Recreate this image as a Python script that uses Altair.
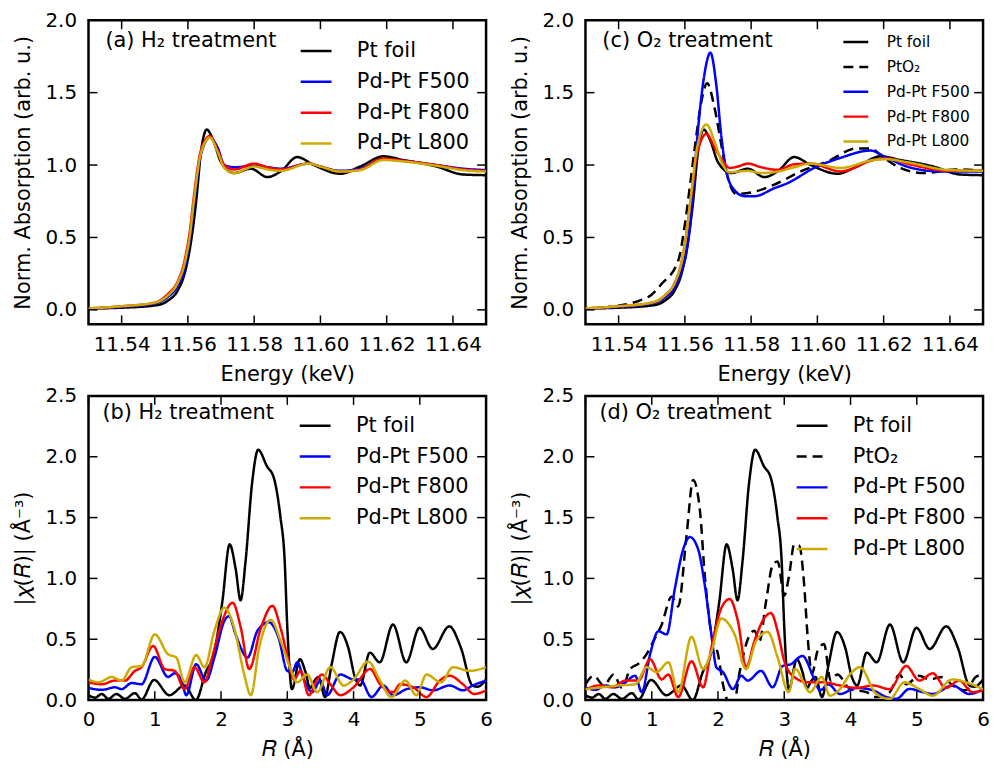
import altair as alt
import pandas as pd

# ---------------- data ----------------
# XANES, Pt foil (shared by panels a and c)
xan_ptfoil_E = [11.530, 11.540, 11.550, 11.554, 11.557, 11.559, 11.561, 11.5625, 11.564, 11.5657,
                11.5675, 11.570, 11.574, 11.579, 11.584, 11.588, 11.593, 11.598, 11.606, 11.612,
                11.619, 11.625, 11.635, 11.643, 11.650]
xan_ptfoil_mu = [0.01, 0.015, 0.03, 0.064, 0.137, 0.25, 0.48, 0.75, 1.10, 1.245,
                 1.18, 1.02, 0.945, 0.975, 0.917, 0.956, 1.055, 1.0, 0.94, 0.99,
                 1.06, 1.035, 0.99, 0.935, 0.93]

# panel (a) H2 treatment
a_E = [11.530, 11.540, 11.550, 11.554, 11.557, 11.559, 11.5605, 11.562, 11.5638, 11.5666,
       11.569, 11.571, 11.574, 11.580, 11.584, 11.588, 11.5965, 11.600, 11.606, 11.612,
       11.619, 11.625, 11.635, 11.643, 11.650]
a_f500_mu = [0.01, 0.02, 0.045, 0.09, 0.17, 0.29, 0.48, 0.76, 1.06, 1.19,
             1.12, 1.0, 0.985, 0.995, 0.985, 0.975, 1.01, 0.99, 0.96, 0.975,
             1.04, 1.03, 1.0, 0.975, 0.965]
a_f800_mu = [0.01, 0.025, 0.05, 0.11, 0.20, 0.34, 0.53, 0.82, 1.09, 1.20,
             1.10, 1.0, 0.97, 1.01, 0.985, 0.97, 1.01, 0.99, 0.955, 0.97,
             1.045, 1.03, 1.0, 0.97, 0.96]
a_l800_mu = [0.01, 0.025, 0.05, 0.10, 0.19, 0.32, 0.50, 0.79, 1.07, 1.19,
             1.09, 0.98, 0.945, 0.99, 0.97, 0.96, 1.01, 0.99, 0.955, 0.965,
             1.035, 1.025, 0.995, 0.965, 0.955]

# panel (c) O2 treatment
c_pto2_E = [11.530, 11.537, 11.549, 11.553, 11.558, 11.560, 11.5615, 11.563, 11.565, 11.5667,
            11.569, 11.571, 11.573, 11.5755, 11.580, 11.587, 11.595, 11.603, 11.612, 11.616,
            11.620, 11.625, 11.632, 11.642, 11.650]
c_pto2_mu = [0.01, 0.02, 0.09, 0.18, 0.34, 0.59, 0.85, 1.12, 1.44, 1.565,
             1.39, 1.14, 0.91, 0.80, 0.81, 0.865, 0.956, 1.025, 1.115, 1.115,
             1.05, 0.98, 0.945, 0.97, 0.96]
c_f500_E = [11.530, 11.540, 11.550, 11.554, 11.557, 11.559, 11.5605, 11.562, 11.563, 11.5645,
            11.566, 11.5677, 11.5695, 11.571, 11.5725, 11.5745, 11.578, 11.581, 11.587, 11.591,
            11.599, 11.607, 11.616, 11.621, 11.627, 11.637, 11.650]
c_f500_mu = [0.01, 0.02, 0.045, 0.085, 0.16, 0.27, 0.40, 0.68, 0.98, 1.37,
             1.64, 1.776, 1.55, 1.2, 0.96, 0.84, 0.785, 0.785, 0.84, 0.875,
             0.98, 1.05, 1.10, 1.05, 0.99, 0.956, 0.956]
c_E = [11.530, 11.540, 11.550, 11.554, 11.557, 11.559, 11.5603, 11.562, 11.5637, 11.5665,
       11.569, 11.571, 11.5735, 11.576, 11.579, 11.583, 11.588, 11.593, 11.598, 11.607,
       11.617, 11.621, 11.627, 11.640, 11.650]
c_f800_mu = [0.01, 0.025, 0.05, 0.10, 0.19, 0.33, 0.50, 0.80, 1.08, 1.215,
             1.12, 1.045, 0.98, 0.99, 1.01, 0.985, 0.967, 1.005, 1.01, 0.956,
             1.035, 1.045, 1.01, 0.96, 0.96]
c_l800_mu = [0.01, 0.025, 0.05, 0.10, 0.19, 0.33, 0.50, 0.82, 1.12, 1.28,
             1.16, 1.025, 0.95, 0.955, 0.96, 0.945, 0.955, 0.985, 1.01, 0.98,
             1.035, 1.04, 1.02, 0.965, 0.96]

# FT, Pt foil (shared by panels b and d)
ft_ptfoil_R = [0.0, 0.1, 0.2, 0.3, 0.42, 0.55, 0.7, 0.8, 0.99, 1.22, 1.45, 1.62, 1.77, 1.89,
               2.02, 2.13, 2.22, 2.295, 2.37, 2.47, 2.56, 2.695, 2.795, 2.895, 2.96, 3.0,
               3.07, 3.19, 3.27, 3.345, 3.4, 3.47, 3.57, 3.67, 3.795, 3.92, 4.02, 4.1,
               4.245, 4.395, 4.595, 4.795, 4.995, 5.195, 5.445, 5.62, 5.795, 5.87, 6.0]
ft_ptfoil_chi = [0.04, 0.02, 0.05, 0.01, 0.05, 0.01, 0.057, 0.005, 0.165, 0.04, 0.12, 0.0, 0.23, 0.376,
                 0.81, 1.28, 1.08, 0.82, 1.14, 1.79, 2.057, 1.92, 1.83, 1.51, 1.15, 0.6,
                 0.09, 0.336, 0.24, 0.1, 0.15, 0.19, 0.025, 0.295, 0.56, 0.43, 0.19, 0.12,
                 0.39, 0.31, 0.621, 0.31, 0.594, 0.42, 0.606, 0.43, 0.12, 0.11, 0.17]

# panel (b) H2 treatment
b_f500_R = [0.0, 0.2, 0.4, 0.5, 0.65, 0.8, 1.0, 1.2, 1.3, 1.4, 1.475, 1.625, 1.775, 1.9, 2.05,
            2.12, 2.22, 2.4, 2.55, 2.72, 2.87, 3.0, 3.075, 3.15, 3.25, 3.375, 3.5, 3.6, 3.8,
            4.0, 4.1, 4.27, 4.45, 4.6, 4.8, 5.0, 5.2, 5.45, 5.65, 5.8, 6.0]
b_f500_chi = [0.10, 0.084, 0.105, 0.09, 0.14, 0.13, 0.355, 0.19, 0.22, 0.17, 0.04, 0.295, 0.16, 0.35, 0.65,
              0.69, 0.54, 0.35, 0.57, 0.64, 0.51, 0.24, 0.23, 0.31, 0.17, 0.065, 0.16, 0.04, 0.21,
              0.17, 0.17, 0.025, 0.12, 0.04, 0.09, 0.105, 0.08, 0.12, 0.08, 0.12, 0.16]
b_f800_R = [0.0, 0.2, 0.4, 0.55, 0.7, 0.8, 0.975, 1.15, 1.3, 1.45, 1.6, 1.75, 1.85, 2.0, 2.175,
            2.3, 2.425, 2.6, 2.775, 2.9, 3.03, 3.1, 3.2, 3.325, 3.45, 3.525, 3.65, 3.8, 4.0,
            4.25, 4.4, 4.6, 4.7, 4.9, 5.1, 5.3, 5.45, 5.65, 5.82, 6.0]
b_f800_chi = [0.146, 0.13, 0.16, 0.16, 0.24, 0.27, 0.445, 0.255, 0.24, 0.09, 0.27, 0.146, 0.32, 0.62, 0.80,
              0.59, 0.255, 0.59, 0.775, 0.59, 0.295, 0.17, 0.24, 0.04, 0.17, 0.21, 0.13, 0.04, 0.105,
              0.255, 0.13, 0.065, 0.13, 0.105, 0.025, 0.16, 0.2, 0.13, 0.05, 0.08]
b_l800_R = [0.0, 0.15, 0.35, 0.5, 0.65, 0.8, 1.0, 1.2, 1.325, 1.45, 1.625, 1.75, 1.9, 2.05, 2.2,
            2.35, 2.45, 2.575, 2.75, 2.9, 3.05, 3.15, 3.3, 3.45, 3.65, 3.85, 4.0, 4.22, 4.4,
            4.57, 4.78, 4.95, 5.1, 5.32, 5.5, 5.75, 6.0]
b_l800_chi = [0.17, 0.146, 0.19, 0.16, 0.27, 0.28, 0.54, 0.377, 0.35, 0.146, 0.37, 0.27, 0.57, 0.76, 0.59,
              0.21, 0.04, 0.43, 0.66, 0.485, 0.255, 0.146, 0.21, 0.065, 0.27, 0.12, 0.17, 0.317, 0.16,
              0.025, 0.16, 0.04, 0.21, 0.146, 0.27, 0.24, 0.27]

# panel (d) O2 treatment
d_pto2_R = [0.0, 0.125, 0.275, 0.425, 0.55, 0.675, 0.8, 0.925, 1.025, 1.15, 1.3, 1.4, 1.525, 1.625,
            1.725, 1.8, 1.9, 2.0, 2.075, 2.15, 2.22, 2.33, 2.45, 2.55, 2.625, 2.725, 2.825, 2.9,
            3.0, 3.075, 3.15, 3.225, 3.3, 3.35, 3.42, 3.5, 3.6, 3.7, 3.8, 3.99, 4.24, 4.39,
            4.59, 4.74, 4.84, 5.04, 5.19, 5.39, 5.54, 5.74, 5.89, 6.0]
d_pto2_chi = [0.13, 0.2, 0.12, 0.21, 0.1, 0.255, 0.3, 0.38, 0.485, 0.62, 0.85, 0.77, 1.35, 1.81,
              1.57, 1.03, 0.54, 0.377, 0.13, -0.02, -0.08, 0.24, 0.5, 0.57, 0.485, 0.81, 1.11, 1.14,
              0.86, 1.03, 1.28, 1.27, 0.95, 0.54, 0.217, 0.4, 0.46, 0.16, 0.21, 0.092, 0.065, 0.025,
              0.065, 0.21, 0.13, 0.2, 0.17, 0.19, 0.12, 0.08, 0.19, 0.21]
d_f500_R = [0.0, 0.15, 0.3, 0.45, 0.6, 0.75, 0.85, 0.975, 1.1, 1.225, 1.35, 1.475, 1.575, 1.7,
            1.8, 1.9, 1.975, 2.075, 2.225, 2.35, 2.45, 2.65, 2.825, 2.975, 3.1, 3.275, 3.44,
            3.54, 3.665, 3.84, 4.09, 4.34, 4.54, 4.69, 4.89, 5.09, 5.24, 5.54, 5.79, 6.0]
d_f500_chi = [0.105, 0.084, 0.12, 0.105, 0.146, 0.2, 0.065, 0.377, 0.566, 0.54, 0.92, 1.24, 1.34, 1.24,
              0.946, 0.54, 0.27, 0.23, 0.09, 0.2, 0.16, 0.24, 0.105, 0.28, 0.295, 0.363, 0.19,
              0.08, 0.13, 0.05, 0.1, 0.08, 0.025, 0.01, 0.092, 0.065, 0.05, 0.12, 0.05, 0.09]
d_f800_R = [0.0, 0.2, 0.4, 0.6, 0.8, 0.975, 1.15, 1.25, 1.4, 1.6, 1.775, 1.9, 2.05, 2.175, 2.3,
            2.425, 2.55, 2.7, 2.8, 2.9, 3.0, 3.15, 3.35, 3.59, 3.84, 4.09, 4.34, 4.59, 4.84,
            5.04, 5.24, 5.44, 5.64, 5.84, 6.0]
d_f800_chi = [0.084, 0.12, 0.105, 0.16, 0.16, 0.336, 0.17, 0.21, 0.025, 0.32, 0.105, 0.43, 0.756, 0.83, 0.65,
              0.27, 0.485, 0.675, 0.715, 0.566, 0.32, 0.19, 0.146, 0.146, 0.12, 0.1, 0.12, 0.09, 0.28,
              0.16, 0.22, 0.1, 0.16, 0.065, 0.08]
d_l800_R = [0.0, 0.25, 0.5, 0.75, 0.925, 1.075, 1.25, 1.4, 1.6, 1.775, 1.9, 2.05, 2.25, 2.425,
            2.575, 2.75, 2.9, 3.065, 3.165, 3.39, 3.565, 3.69, 3.84, 3.99, 4.14, 4.39, 4.59,
            4.815, 5.04, 5.24, 5.54, 5.74, 6.0]
d_l800_chi = [0.09, 0.105, 0.12, 0.13, 0.27, 0.23, 0.31, 0.065, 0.52, 0.255, 0.4, 0.67, 0.54, 0.255,
              0.485, 0.56, 0.35, 0.065, 0.255, 0.065, 0.19, 0.036, 0.09, 0.21, 0.27, 0.05, 0.01,
              0.146, 0.09, 0.036, 0.17, 0.146, 0.09]

# tick values / labels
xan_xticks = [11.54, 11.56, 11.58, 11.60, 11.62, 11.64]
xan_yticks = [0.0, 0.5, 1.0, 1.5, 2.0]
ft_xticks = [0, 1, 2, 3, 4, 5, 6]
ft_yticks = [0.0, 0.5, 1.0, 1.5, 2.0, 2.5]

NAME_PT = "Pt foil"
NAME_PTO2 = "PtO\u2082"
NAME_F500 = "Pd-Pt F500"
NAME_F800 = "Pd-Pt F800"
NAME_L800 = "Pd-Pt L800"
COLORS = {NAME_PT: "#000000", NAME_PTO2: "#000000", NAME_F500: "#0000ff",
          NAME_F800: "#ff0000", NAME_L800: "#ccaa00"}
DASHES = {NAME_PT: [1, 0], NAME_PTO2: [10, 6], NAME_F500: [1, 0],
          NAME_F800: [1, 0], NAME_L800: [1, 0]}

W, H = 400, 306
TL = 9
FONT = "DejaVu Sans"


def panel(series, xdom, ydom, xticks, yticks, xfmt, yfmt, xtitle, ytitle,
          label, lx, ly, leg_font, leg_sym, leg_off, leg_x, leg_y, leg_pad):
    names = [s[0] for s in series]
    cscale = alt.Scale(domain=names, range=[COLORS[n] for n in names])
    dscale = alt.Scale(domain=names, range=[DASHES[n] for n in names])
    legend = alt.Legend(orient="none", legendX=leg_x, legendY=leg_y, title=None,
                        symbolType="stroke", symbolSize=leg_sym * leg_sym,
                        symbolStrokeWidth=2.5, labelFontSize=leg_font, labelFont=FONT,
                        labelOffset=leg_off, rowPadding=leg_pad, padding=0, labelLimit=0,
                        labelColor="black")
    xaxis = alt.Axis(title=xtitle, values=xticks, format=xfmt)
    yaxis = alt.Axis(title=ytitle, values=yticks, format=yfmt)
    xs = alt.Scale(domain=xdom, nice=False, zero=False)
    ys = alt.Scale(domain=ydom, nice=False, zero=False)
    layers = []
    for name, xv, yv in series:
        df = pd.DataFrame({"x": xv, "y": yv, "s": name})
        layers.append(
            alt.Chart(df).mark_line(interpolate="monotone", strokeWidth=2.5, clip=True).encode(
                x=alt.X("x:Q", scale=xs, axis=xaxis),
                y=alt.Y("y:Q", scale=ys, axis=yaxis),
                color=alt.Color("s:N", scale=cscale, legend=legend),
                strokeDash=alt.StrokeDash("s:N", scale=dscale, legend=legend),
            )
        )
    xt = pd.DataFrame({"x": xticks})
    yt = pd.DataFrame({"y": yticks})
    tick = dict(color="black", strokeWidth=1.5)
    layers.append(alt.Chart(xt).mark_rule(**tick).encode(
        x=alt.X("x:Q", scale=xs, axis=xaxis), y=alt.value(H - TL), y2=alt.value(H)))
    layers.append(alt.Chart(xt).mark_rule(**tick).encode(
        x=alt.X("x:Q", scale=xs, axis=xaxis), y=alt.value(0), y2=alt.value(TL)))
    layers.append(alt.Chart(yt).mark_rule(**tick).encode(
        y=alt.Y("y:Q", scale=ys, axis=yaxis), x=alt.value(0), x2=alt.value(TL)))
    layers.append(alt.Chart(yt).mark_rule(**tick).encode(
        y=alt.Y("y:Q", scale=ys, axis=yaxis), x=alt.value(W - TL), x2=alt.value(W)))
    lab = pd.DataFrame({"t": [label]})
    layers.append(alt.Chart(lab).mark_text(align="left", baseline="middle", fontSize=21,
                                           font=FONT, color="black").encode(
        x=alt.value(lx), y=alt.value(ly), text="t:N"))
    return alt.layer(*layers).properties(width=W, height=H)


XT = "Energy (keV)"
YT_XAN = "Norm. Absorption (arb. u.)"
XT_FT = "\U0001D445 (\u00c5)"
YT_FT = "|\U0001D712(\U0001D445)| (\u00c5\u207b\u00b3)"

pa = panel([(NAME_PT, xan_ptfoil_E, xan_ptfoil_mu), (NAME_F500, a_E, a_f500_mu),
            (NAME_F800, a_E, a_f800_mu), (NAME_L800, a_E, a_l800_mu)],
           [11.53, 11.65], [-0.1, 2.0], xan_xticks, xan_yticks, ".2f", ".1f", XT, YT_XAN,
           "(a) H\u2082 treatment", 17, 21, 21, 31, 24, 212, 14, 4)
pc = panel([(NAME_PT, xan_ptfoil_E, xan_ptfoil_mu), (NAME_PTO2, c_pto2_E, c_pto2_mu),
            (NAME_F500, c_f500_E, c_f500_mu), (NAME_F800, c_E, c_f800_mu),
            (NAME_L800, c_E, c_l800_mu)],
           [11.53, 11.65], [-0.1, 2.0], xan_xticks, xan_yticks, ".2f", ".1f", XT, YT_XAN,
           "(c) O\u2082 treatment", 17, 21, 15.5, 25, 17, 258, 8, 2)
pb = panel([(NAME_PT, ft_ptfoil_R, ft_ptfoil_chi), (NAME_F500, b_f500_R, b_f500_chi),
            (NAME_F800, b_f800_R, b_f800_chi), (NAME_L800, b_l800_R, b_l800_chi)],
           [0, 6], [0, 2.5], ft_xticks, ft_yticks, "d", ".1f", XT_FT, YT_FT,
           "(b) H\u2082 treatment", 14, 17, 21, 31, 24, 211, 13, 4)
pd_ = panel([(NAME_PT, ft_ptfoil_R, ft_ptfoil_chi), (NAME_PTO2, d_pto2_R, d_pto2_chi),
             (NAME_F500, d_f500_R, d_f500_chi), (NAME_F800, d_f800_R, d_f800_chi),
             (NAME_L800, d_l800_R, d_l800_chi)],
            [0, 6], [0, 2.5], ft_xticks, ft_yticks, "d", ".1f", XT_FT, YT_FT,
            "(d) O\u2082 treatment", 14, 17, 21, 31, 24, 211, 13, 4)

ind = dict(x="independent", y="independent", color="independent", strokeDash="independent")
row1 = alt.hconcat(pa, pc, spacing=19).resolve_scale(**ind)
row2 = alt.hconcat(pb, pd_, spacing=13).resolve_scale(**ind)
chart = (
    alt.vconcat(row1, row2, spacing=-2)
    .resolve_scale(**ind)
    .properties(padding={"left": 2, "top": -2, "right": 0, "bottom": -4})
    .configure_view(stroke="black", strokeWidth=2.5)
    .configure_axis(labelFont=FONT, labelFontSize=20, titleFont=FONT, titleFontSize=21,
                    titleFontWeight="normal", labelColor="black", titleColor="black",
                    grid=False, domain=False, ticks=False, tickSize=0, labelPadding=10,
                    titlePadding=9, labelFlush=False, labelOverlap=False)
    .configure_axisY(labelPadding=12, titlePadding=12)
)

chart.save("out.html", embed_options={"renderer": "svg", "actions": False})
